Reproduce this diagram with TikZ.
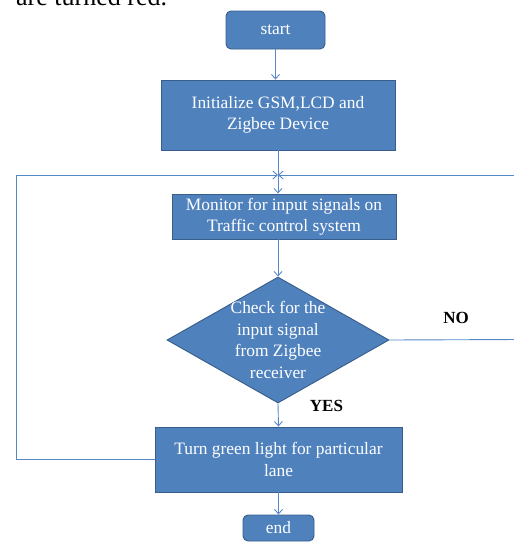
\documentclass[tikz,border=0pt]{standalone}
\usepackage{fontspec}
\setmainfont{Liberation Serif}
\usetikzlibrary{arrows.meta,shapes.geometric}
\definecolor{boxfill}{RGB}{79,129,189}
\definecolor{boxedge}{RGB}{56,93,138}
\definecolor{linec}{RGB}{86,136,200}
\tikzset{
  x=1pt,y=-1pt,
  boxtext/.style={font=\fontsize{17.4}{21.5}\selectfont,text=white,align=center},
  proc/.style={boxtext,draw=boxedge,fill=boxfill,line width=0.9pt,inner sep=0pt},
  term/.style={proc,rounded corners=5pt},
  dec/.style={diamond,draw=boxedge,fill=boxfill,line width=0.9pt,inner sep=0pt},
  conn/.style={draw=linec,line width=0.9pt},
  arr/.style={conn,-{Straight Barb[length=4.5pt,width=8pt]}},
  lbl/.style={font=\fontsize{17}{20}\selectfont\bfseries,text=black}
}
\begin{document}
\begin{tikzpicture}
\useasboundingbox (0,0) rectangle (514,542);
\clip (0,0) rectangle (514,542);
\node[font=\fontsize{26}{30}\selectfont,anchor=base west,inner sep=0pt] (top) at (16,5) {are turned red.};
\node[term,minimum width=99pt,minimum height=38pt] (start) at (275.5,30) {start};
\node[proc,minimum width=234pt,minimum height=70pt] (init) at (278,115) {Initialize GSM,LCD and\\Zigbee Device};
\coordinate (j) at (278,175);
\node[proc,minimum width=224pt,minimum height=45pt] (mon) at (284,216.5) {Monitor for input signals on\\Traffic control system};
\node[dec,minimum width=222pt,minimum height=126pt] (chk) at (278,340) {};
\node[boxtext] (chktext) at (278,340) {Check for the\\input signal\\from Zigbee\\receiver};
\node[proc,minimum width=247pt,minimum height=65pt] (turn) at (278.5,459.5) {Turn green light for particular\\lane};
\node[term,minimum width=71pt,minimum height=26pt] (end) at (278.5,528) {end};
\coordinate (lft) at (16.5,175);
\coordinate (rno) at (520,339.5);
\coordinate (rtop) at (520,175);
\node[lbl] (no) at (456,318) {NO};
\node[lbl] (yes) at (326.5,406) {YES};
\draw[arr] (start.south) -- (start.south |- init.north);
\draw[conn] (init.south) -- (j);
\draw[arr] (j) -- (j |- mon.north);
\draw[arr] (j |- mon.south) -- (chk.north);
\draw[arr] (chk.south) -- (turn.north);
\draw[arr] (turn.south) -- (end.north);
\draw[arr] (turn.west) -| (lft) -- (j);
\draw[conn] (chk.east) -- (rno);
\draw[arr] (rtop) -- (j);
\end{tikzpicture}
\end{document}
